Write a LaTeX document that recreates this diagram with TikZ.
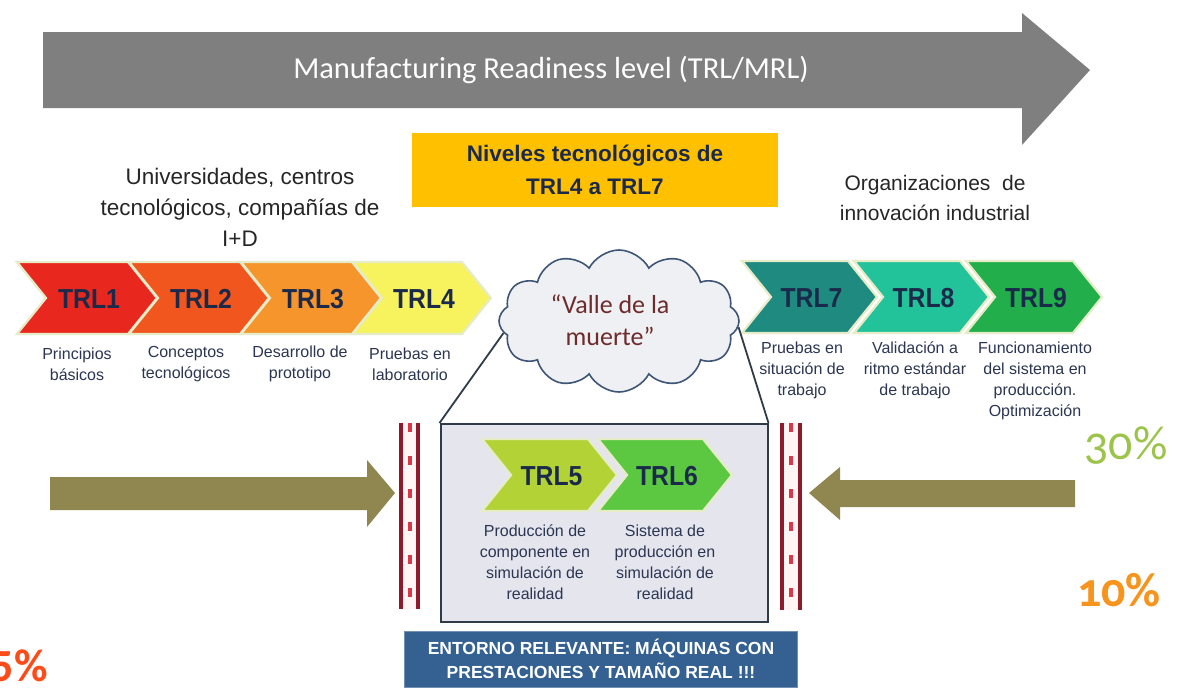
\documentclass[tikz,border=0pt]{standalone}
\usepackage{fontspec}
\setmainfont{Liberation Sans}
\newfontfamily\calib{Carlito}
\newfontfamily\calibold[Numbers=OldStyle]{Carlito}
\newfontfamily\narrowsans[FakeStretch=0.9]{Liberation Sans}
\usetikzlibrary{shapes.symbols}
\definecolor{arrowgray}{HTML}{7F7F7F}
\definecolor{gold}{HTML}{FFC000}
\definecolor{navy}{HTML}{1B2A4A}
\definecolor{desc}{HTML}{2C3652}
\definecolor{chevline}{HTML}{E6ECC8}
\definecolor{cA}{HTML}{E8281E}
\definecolor{cB}{HTML}{F0561E}
\definecolor{cC}{HTML}{F7952D}
\definecolor{cD}{HTML}{F6F35E}
\definecolor{cE}{HTML}{B3D236}
\definecolor{cF}{HTML}{5CC842}
\definecolor{cG}{HTML}{1F8A80}
\definecolor{cH}{HTML}{22C39A}
\definecolor{cI}{HTML}{22AE4B}
\definecolor{cloudfill}{HTML}{EEF0F3}
\definecolor{cloudline}{HTML}{3E5575}
\definecolor{valle}{HTML}{6E2B2B}
\definecolor{boxfill}{HTML}{E5E5EE}
\definecolor{boxline}{HTML}{2F3C48}
\definecolor{steel}{HTML}{346191}
\definecolor{olive}{HTML}{8F874F}
\definecolor{barred}{HTML}{8E1B2B}
\definecolor{bardash}{HTML}{D8384A}
\definecolor{pctgreen}{HTML}{9CC44A}
\definecolor{pctorange}{HTML}{F7941E}
\definecolor{pctred}{HTML}{FF4A1A}
\newcommand\chevron[6]{%
  \fill[#5, draw=chevline, line width=2.2pt, line join=miter]
    (#2,#3-36) -- (#2+#4-29,#3-36) -- (#2+#4,#3) -- (#2+#4-29,#3+36)
    -- (#2,#3+36) -- (#2+29,#3) -- cycle;
  \node[trl] (#1) at (#2+#4/2+2,#3+1) {#6};}
\tikzset{
  trl/.style={font=\narrowsans\fontsize{27.5}{30}\selectfont\bfseries, text=navy, inner sep=0pt},
  desctext/.style={font=\fontsize{16}{21}\selectfont, text=desc, align=center, inner sep=0pt},
  headtext/.style={font=\fontsize{22.5}{31}\selectfont, text=black!85, align=center, inner sep=0pt},
  barline/.style={draw=barred, line width=3.5pt},
  bardashes/.style={draw=bardash, line width=4pt, dash pattern=on 9pt off 24pt},
}
\begin{document}
\begin{tikzpicture}[x=1pt, y=-1pt]
\useasboundingbox (0,0) rectangle (1178,699);
\fill[white] (0,0) rectangle (1178,699);
\begin{scope}
\clip (0,0) rectangle (1178,699);
% big gray arrow
\fill[arrowgray] (43,32) -- (1022,32) -- (1022,13) -- (1090,70) -- (1022,145) -- (1022,108) -- (43,108) -- cycle;
\node[font=\calib\fontsize{30.5}{34}\selectfont, text=white, inner sep=0pt] (mrl) at (551,70) {Manufacturing Readiness level (TRL/MRL)};
% yellow box
\node[fill=gold, minimum width=366pt, minimum height=74pt, inner sep=0pt, align=center,
  font=\fontsize{22.5}{33}\selectfont\bfseries, text=navy] (niveles) at (595,170) {Niveles tecnológicos de\\TRL4 a TRL7};
% headings
\node[headtext] (univ) at (240,207) {Universidades, centros\\tecnológicos, compañías de\\I+D};
\node[headtext, font=\fontsize{21}{30}\selectfont] (org) at (935,198) {Organizaciones~ de\\innovación industrial};
% row 1
\chevron{t1}{17}{298}{140}{cA}{TRL1}
\chevron{t2}{129}{298}{140}{cB}{TRL2}
\chevron{t3}{241}{298}{140}{cC}{TRL3}
\chevron{t4}{353}{298}{138}{cD}{TRL4}
\node[desctext] (d1) at (77,364) {Principios\\básicos};
\node[desctext] (d2) at (186,364) {Conceptos\\tecnológicos};
\node[desctext] (d3) at (300,364) {Desarrollo de\\prototipo};
\node[desctext] (d4) at (410,364) {Pruebas en\\laboratorio};
% row 2
\chevron{t7}{742}{297}{135}{cG}{TRL7}
\chevron{t8}{854}{297}{135}{cH}{TRL8}
\chevron{t9}{966}{297}{136}{cI}{TRL9}
\node[desctext] (d7) at (802,370) {Pruebas en\\situación de\\trabajo};
\node[desctext] (d8) at (915,370) {Validación a\\ritmo estándar\\de trabajo};
\node[desctext] (d9) at (1035,381) {Funcionamiento\\del sistema en\\producción.\\Optimización};
% simulation box
\node[draw=boxline, line width=2pt, fill=boxfill, minimum width=327pt, minimum height=198pt, inner sep=0pt] (simbox) at (604,523) {};
\chevron{t5}{482}{475}{135}{cE}{TRL5}
\chevron{t6}{598}{475}{134}{cF}{TRL6}
\node[desctext] (d5) at (535,562) {Producción de\\componente en\\simulación de\\realidad};
\node[desctext] (d6) at (665,562) {Sistema de\\producción en\\simulación de\\realidad};
% cloud
\node[cloud, cloud puffs=12, cloud puff arc=125, cloud ignores aspect, draw=cloudline, line width=1.6pt, fill=cloudfill,
  minimum width=240pt, minimum height=142pt, inner sep=0pt] (cloud) at (619,321) {};
\node[font=\calib\fontsize{26}{32}\selectfont, text=valle, align=center, inner sep=0pt] (valle) at (610,320) {“Valle de la\\muerte”};
\draw[boxline, line width=1.8pt] (cloud.186) -- (simbox.north west);
\draw[boxline, line width=1.8pt] (cloud.-3) -- (simbox.north east);
% blue box
\node[fill=steel, draw=steel!70!white, line width=0.8pt, minimum width=393pt, minimum height=56pt, inner sep=0pt, align=center,
  font=\fontsize{17.5}{23.5}\selectfont\bfseries, text=white] (entorno) at (601,659) {ENTORNO RELEVANTE: MÁQUINAS CON\\PRESTACIONES Y TAMAÑO REAL !!!};
% barriers
\fill[red!4] (401,423) rectangle (418,609);
\draw[barline] (401,423) -- (401,609);
\draw[barline] (418,423) -- (418,609);
\draw[bardashes] (409.5,423) -- (409.5,609);
\fill[red!4] (782,423) rectangle (800,610);
\draw[barline] (782,423) -- (782,610);
\draw[barline] (800,423) -- (800,610);
\draw[bardashes] (791,423) -- (791,610);
% olive arrows
\fill[olive] (50,477) -- (367,477) -- (367,460) -- (395,493) -- (367,527) -- (367,510) -- (50,510) -- cycle;
\fill[olive] (1075,480) -- (840,480) -- (840,467) -- (809,493) -- (840,520) -- (840,507) -- (1075,507) -- cycle;
% percentages
\node[font=\calibold\fontsize{48}{50}\selectfont, text=pctgreen, inner sep=0pt] (p30) at (1126,446) {30\%};
\node[font=\calibold\fontsize{48}{50}\selectfont\bfseries, text=pctorange, inner sep=0pt] (p10) at (1119,590) {10\%};
\node[font=\calib\fontsize{46}{50}\selectfont\bfseries, text=pctred, inner sep=0pt, anchor=east] (p5) at (48,666) {5\%};
\end{scope}
\end{tikzpicture}
\end{document}
